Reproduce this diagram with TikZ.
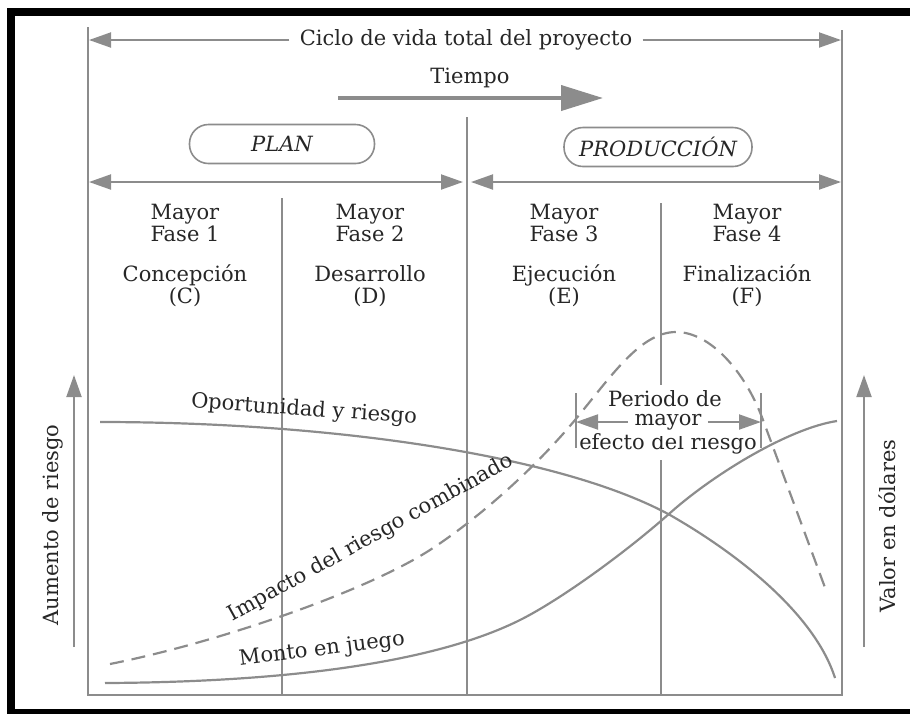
\documentclass[tikz,border=0pt]{standalone}
\usepackage{fontspec}
\setmainfont{DejaVu Serif}
\usetikzlibrary{arrows.meta,positioning}
\definecolor{gris}{gray}{0.55}
\definecolor{texto}{gray}{0.15}
\tikzset{
  linea/.style={gris, line width=1pt},
  flecha/.style={gris, line width=1pt, -{Triangle[length=11pt,width=7.5pt]}},
  doble/.style={gris, line width=1pt, {Triangle[length=11pt,width=7.5pt]}-{Triangle[length=11pt,width=7.5pt]}},
  caja/.style={draw=gris, line width=0.8pt, rounded corners=9.5pt, minimum height=19.5pt},
  curva/.style={gris, line width=1.1pt},
}
\begin{document}
\begin{tikzpicture}[x=0.5pt, y=-0.5pt, text=texto, font=\fontsize{10.5}{11}\selectfont]
    \useasboundingbox (0,0) rectangle (910,714);
    % black frame
    \fill[black] (7,8) rectangle (910,16);
    \fill[black] (7,8) rectangle (15,714);
    \fill[black] (7,709) rectangle (910,714);

    % box and dividers
    \draw[linea] (88,27) -- (88,695) -- (842,695) -- (842,30);
    \draw[linea] (467,117) -- (467,695);
    \draw[linea] (282,198) -- (282,695);
    \draw[linea] (661,203) -- (661,695);

    % top
    \node[inner sep=5pt] (ciclo) at (466,40) {Ciclo de vida total del proyecto};
    \coordinate (cicloL) at (89,40);
    \coordinate (cicloR) at (841,40);
    \draw[flecha] (ciclo.west) -- (cicloL);
    \draw[flecha] (ciclo.east) -- (cicloR);
    \node (tiempo) at (470,78) {Tiempo};
    \coordinate (t1) at (338,98);
    \coordinate (t2) at (603,98);
    \draw[gris, line width=2pt, -{Triangle[length=21pt,width=12.5pt]}] (t1) -- (t2);

    \node[caja, minimum width=92.5pt] (plan) at (282,144) {\itshape PLAN};
    \node[caja, minimum width=94pt] (produccion) at (658,147) {\itshape PRODUCCIÓN};

    \coordinate (planL) at (89,182);
    \coordinate (planR) at (463,182);
    \coordinate (prodL) at (471,182);
    \coordinate (prodR) at (841,182);
    \draw[doble] (planL) -- (planR);
    \draw[doble] (prodL) -- (prodR);

    % phases
    \foreach \cx/\num/\nombre/\letra in {185/1/Concepción/C, 370/2/Desarrollo/D, 564/3/Ejecución/E, 747/4/Finalización/F} {
        \node[align=center] (mayor\num) at (\cx,223) {Mayor\\Fase \num};
        \node[align=center] (fase\num) at (\cx,286) {\nombre\\(\letra)};
    }

    % period of greatest risk
    \node[fill=white, inner sep=3pt] (periodo) at (665,399) {Periodo de};
    \node[fill=white, inner sep=3pt] (efecto) at (668,444) {efecto del riesgo};
    \node[fill=white, inner sep=3pt] (mayor) at (668,422) {mayor};
    \coordinate (pl) at (576,422);
    \coordinate (pr) at (761,422);
    \draw[flecha] (mayor.west) -- (pl);
    \draw[flecha] (mayor.east) -- (pr);
    \draw[linea, line width=0.8pt] (576,393) -- (576,448);
    \draw[linea, line width=0.8pt] (761,393) -- (761,448);

    % curves
    \draw[curva] (100,422) .. controls (330,422) and (560,455) .. (670,515)
        .. controls (740,555) and (815,615) .. (835,678);
    \draw[curva] (105,683) .. controls (300,682) and (440,660) .. (520,620)
        .. controls (560,600) and (625,553) .. (670,513)
        .. controls (715,473) and (790,428) .. (837,421);
    \draw[curva, dash pattern=on 7pt off 4pt] (110,664) .. controls (220,642) and (370,590) .. (433,548)
        .. controls (480,517) and (535,468) .. (575,420)
        .. controls (610,378) and (640,332) .. (676,332)
        .. controls (710,332) and (745,371) .. (763,420) -- (827,593);

    \node[rotate=-4] (oport) at (304,410) {Oportunidad y riesgo};
    \node[rotate=29] (impacto) at (371,538) {Impacto del riesgo combinado};
    \node[rotate=7] (monto) at (322,650) {Monto en juego};

    % axes
    \coordinate (a1) at (74,647);
    \coordinate (a2) at (74,375);
    \draw[flecha] (a1) -- (a2);
    \node[rotate=90] (riesgo) at (53,525) {Aumento de riesgo};
    \coordinate (b1) at (864,647);
    \coordinate (b2) at (864,375);
    \draw[flecha] (b1) -- (b2);
    \node[rotate=90] (valor) at (887,526) {Valor en dólares};
\end{tikzpicture}
\end{document}
